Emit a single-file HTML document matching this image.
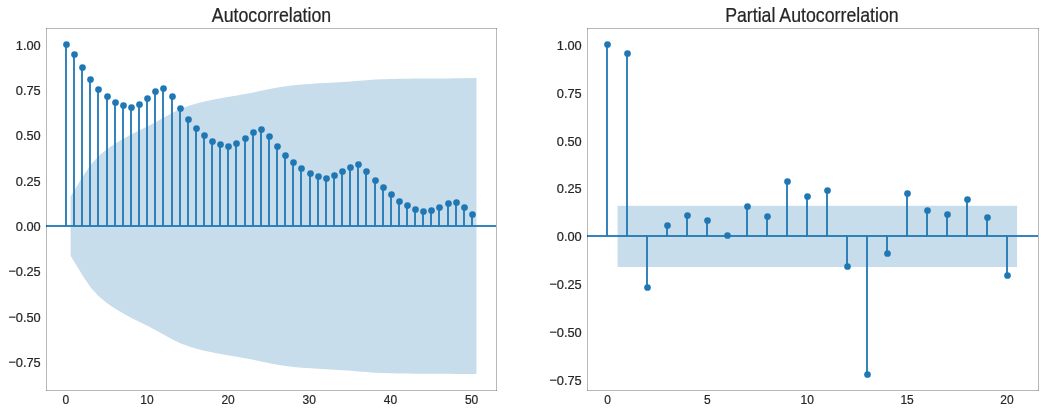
<!DOCTYPE html><html><head><meta charset="utf-8"><title>ACF / PACF</title><style>html,body{margin:0;padding:0;background:#fff;}svg{display:block;}text{font-family:"Liberation Sans",sans-serif;fill:#262626;}.tk{font-size:12px;stroke:#262626;stroke-width:0.2px;}.tt{stroke:#262626;stroke-width:0.2px;}</style></head><body>
<div style="width:1045px;height:414px;overflow:hidden;will-change:transform;"><svg width="1045" height="414" viewBox="0 0 1045 414">
<rect width="1045" height="414" fill="#fff"/>
<clipPath id="c46"><rect x="46.50" y="28.50" width="450.00" height="362.00"/></clipPath>
<g clip-path="url(#c46)">
<polygon points="70.58,196.49 82.76,176.56 90.87,164.46 98.99,155.80 107.11,149.05 115.23,143.45 123.35,138.66 131.46,134.35 139.58,130.33 147.70,126.29 155.82,122.04 163.94,117.48 172.05,112.90 180.17,109.03 188.29,105.94 196.41,103.46 204.53,101.41 212.64,99.66 220.76,98.14 228.88,96.76 237.00,95.45 245.12,94.05 253.23,92.51 261.35,90.77 269.47,88.94 277.59,87.39 285.71,86.18 293.82,85.24 301.94,84.49 310.06,83.88 318.18,83.36 326.30,82.91 334.41,82.49 342.53,82.02 350.65,81.48 358.77,80.83 366.89,80.15 375.00,79.60 383.12,79.21 391.24,78.95 399.36,78.77 407.48,78.66 415.59,78.58 423.71,78.53 431.83,78.49 439.95,78.45 448.07,78.38 456.18,78.29 464.30,78.19 476.48,78.12 476.48,374.11 464.30,374.05 456.18,373.94 448.07,373.85 439.95,373.79 431.83,373.74 423.71,373.70 415.59,373.65 407.48,373.58 399.36,373.46 391.24,373.29 383.12,373.02 375.00,372.64 366.89,372.08 358.77,371.40 350.65,370.76 342.53,370.21 334.41,369.75 326.30,369.32 318.18,368.87 310.06,368.36 301.94,367.74 293.82,366.99 285.71,366.05 277.59,364.84 269.47,363.29 261.35,361.47 253.23,359.72 245.12,358.18 237.00,356.79 228.88,355.47 220.76,354.09 212.64,352.57 204.53,350.83 196.41,348.77 188.29,346.29 180.17,343.20 172.05,339.33 163.94,334.75 155.82,330.19 147.70,325.94 139.58,321.90 131.46,317.88 123.35,313.57 115.23,308.78 107.11,303.18 98.99,296.43 90.87,287.77 82.76,275.67 70.58,255.74" fill="#c7ddec"/>
<g stroke="#1f77b4" stroke-width="1.80">
<line x1="66.0" y1="226.0" x2="66.0" y2="44.5"/>
<line x1="74.0" y1="226.0" x2="74.0" y2="54.5"/>
<line x1="82.0" y1="226.0" x2="82.0" y2="67.5"/>
<line x1="90.0" y1="226.0" x2="90.0" y2="79.5"/>
<line x1="98.0" y1="226.0" x2="98.0" y2="89.5"/>
<line x1="107.0" y1="226.0" x2="107.0" y2="96.5"/>
<line x1="115.0" y1="226.0" x2="115.0" y2="102.5"/>
<line x1="123.0" y1="226.0" x2="123.0" y2="105.5"/>
<line x1="131.0" y1="226.0" x2="131.0" y2="107.5"/>
<line x1="139.0" y1="226.0" x2="139.0" y2="104.5"/>
<line x1="147.0" y1="226.0" x2="147.0" y2="98.5"/>
<line x1="155.0" y1="226.0" x2="155.0" y2="91.5"/>
<line x1="163.0" y1="226.0" x2="163.0" y2="88.5"/>
<line x1="172.0" y1="226.0" x2="172.0" y2="96.5"/>
<line x1="180.0" y1="226.0" x2="180.0" y2="108.5"/>
<line x1="188.0" y1="226.0" x2="188.0" y2="119.5"/>
<line x1="196.0" y1="226.0" x2="196.0" y2="128.5"/>
<line x1="204.0" y1="226.0" x2="204.0" y2="135.5"/>
<line x1="212.0" y1="226.0" x2="212.0" y2="141.5"/>
<line x1="220.0" y1="226.0" x2="220.0" y2="144.5"/>
<line x1="228.0" y1="226.0" x2="228.0" y2="146.5"/>
<line x1="236.0" y1="226.0" x2="236.0" y2="143.5"/>
<line x1="245.0" y1="226.0" x2="245.0" y2="138.5"/>
<line x1="253.0" y1="226.0" x2="253.0" y2="132.5"/>
<line x1="261.0" y1="226.0" x2="261.0" y2="129.5"/>
<line x1="269.0" y1="226.0" x2="269.0" y2="136.5"/>
<line x1="277.0" y1="226.0" x2="277.0" y2="146.5"/>
<line x1="285.0" y1="226.0" x2="285.0" y2="155.5"/>
<line x1="293.0" y1="226.0" x2="293.0" y2="162.5"/>
<line x1="301.0" y1="226.0" x2="301.0" y2="168.5"/>
<line x1="310.0" y1="226.0" x2="310.0" y2="173.5"/>
<line x1="318.0" y1="226.0" x2="318.0" y2="176.5"/>
<line x1="326.0" y1="226.0" x2="326.0" y2="178.5"/>
<line x1="334.0" y1="226.0" x2="334.0" y2="175.5"/>
<line x1="342.0" y1="226.0" x2="342.0" y2="171.5"/>
<line x1="350.0" y1="226.0" x2="350.0" y2="167.5"/>
<line x1="358.0" y1="226.0" x2="358.0" y2="164.5"/>
<line x1="366.0" y1="226.0" x2="366.0" y2="171.5"/>
<line x1="375.0" y1="226.0" x2="375.0" y2="180.5"/>
<line x1="383.0" y1="226.0" x2="383.0" y2="187.5"/>
<line x1="391.0" y1="226.0" x2="391.0" y2="194.5"/>
<line x1="399.0" y1="226.0" x2="399.0" y2="201.5"/>
<line x1="407.0" y1="226.0" x2="407.0" y2="205.5"/>
<line x1="415.0" y1="226.0" x2="415.0" y2="209.5"/>
<line x1="423.0" y1="226.0" x2="423.0" y2="211.5"/>
<line x1="431.0" y1="226.0" x2="431.0" y2="210.5"/>
<line x1="439.0" y1="226.0" x2="439.0" y2="207.5"/>
<line x1="448.0" y1="226.0" x2="448.0" y2="203.5"/>
<line x1="456.0" y1="226.0" x2="456.0" y2="202.5"/>
<line x1="464.0" y1="226.0" x2="464.0" y2="207.5"/>
<line x1="472.0" y1="226.0" x2="472.0" y2="214.5"/>
</g><g fill="#1f77b4">
<circle cx="66.5" cy="44.5" r="3.35"/>
<circle cx="74.5" cy="54.5" r="3.35"/>
<circle cx="82.5" cy="67.5" r="3.35"/>
<circle cx="90.5" cy="79.5" r="3.35"/>
<circle cx="98.5" cy="89.5" r="3.35"/>
<circle cx="107.5" cy="96.5" r="3.35"/>
<circle cx="115.5" cy="102.5" r="3.35"/>
<circle cx="123.5" cy="105.5" r="3.35"/>
<circle cx="131.5" cy="107.5" r="3.35"/>
<circle cx="139.5" cy="104.5" r="3.35"/>
<circle cx="147.5" cy="98.5" r="3.35"/>
<circle cx="155.5" cy="91.5" r="3.35"/>
<circle cx="163.5" cy="88.5" r="3.35"/>
<circle cx="172.5" cy="96.5" r="3.35"/>
<circle cx="180.5" cy="108.5" r="3.35"/>
<circle cx="188.5" cy="119.5" r="3.35"/>
<circle cx="196.5" cy="128.5" r="3.35"/>
<circle cx="204.5" cy="135.5" r="3.35"/>
<circle cx="212.5" cy="141.5" r="3.35"/>
<circle cx="220.5" cy="144.5" r="3.35"/>
<circle cx="228.5" cy="146.5" r="3.35"/>
<circle cx="236.5" cy="143.5" r="3.35"/>
<circle cx="245.5" cy="138.5" r="3.35"/>
<circle cx="253.5" cy="132.5" r="3.35"/>
<circle cx="261.5" cy="129.5" r="3.35"/>
<circle cx="269.5" cy="136.5" r="3.35"/>
<circle cx="277.5" cy="146.5" r="3.35"/>
<circle cx="285.5" cy="155.5" r="3.35"/>
<circle cx="293.5" cy="162.5" r="3.35"/>
<circle cx="301.5" cy="168.5" r="3.35"/>
<circle cx="310.5" cy="173.5" r="3.35"/>
<circle cx="318.5" cy="176.5" r="3.35"/>
<circle cx="326.5" cy="178.5" r="3.35"/>
<circle cx="334.5" cy="175.5" r="3.35"/>
<circle cx="342.5" cy="171.5" r="3.35"/>
<circle cx="350.5" cy="167.5" r="3.35"/>
<circle cx="358.5" cy="164.5" r="3.35"/>
<circle cx="366.5" cy="171.5" r="3.35"/>
<circle cx="375.5" cy="180.5" r="3.35"/>
<circle cx="383.5" cy="187.5" r="3.35"/>
<circle cx="391.5" cy="194.5" r="3.35"/>
<circle cx="399.5" cy="201.5" r="3.35"/>
<circle cx="407.5" cy="205.5" r="3.35"/>
<circle cx="415.5" cy="209.5" r="3.35"/>
<circle cx="423.5" cy="211.5" r="3.35"/>
<circle cx="431.5" cy="210.5" r="3.35"/>
<circle cx="439.5" cy="207.5" r="3.35"/>
<circle cx="448.5" cy="203.5" r="3.35"/>
<circle cx="456.5" cy="202.5" r="3.35"/>
<circle cx="464.5" cy="207.5" r="3.35"/>
<circle cx="472.5" cy="214.5" r="3.35"/>
</g></g>
<rect x="46.5" y="28.5" width="450.0" height="362.0" fill="none" stroke="#b8b8b8" stroke-width="1"/>
<rect x="46.0" y="28.0" width="1" height="1" fill="#8e8e8e"/>
<rect x="496.0" y="28.0" width="1" height="1" fill="#8e8e8e"/>
<rect x="46.0" y="390.0" width="1" height="1" fill="#8e8e8e"/>
<rect x="496.0" y="390.0" width="1" height="1" fill="#8e8e8e"/>
<line x1="46.00" y1="226.0" x2="496.00" y2="226.0" stroke="#1f77b4" stroke-width="1.80" stroke-opacity="0.9"/>
<rect x="46.0" y="225.0" width="1" height="2" fill="#1b5f98"/>
<text transform="translate(271.50,21.60) scale(1,1.125)" font-size="17.75" text-anchor="middle" class="tt">Autocorrelation</text>
<text transform="translate(40.75,49.69) scale(1.070,1)" text-anchor="end" class="tk">1.00</text>
<text transform="translate(40.75,95.04) scale(1.070,1)" text-anchor="end" class="tk">0.75</text>
<text transform="translate(40.75,140.39) scale(1.070,1)" text-anchor="end" class="tk">0.50</text>
<text transform="translate(40.75,185.74) scale(1.070,1)" text-anchor="end" class="tk">0.25</text>
<text transform="translate(40.75,231.09) scale(1.070,1)" text-anchor="end" class="tk">0.00</text>
<text transform="translate(40.75,276.44) scale(1.070,1)" text-anchor="end" class="tk"><tspan dy="-1">−</tspan><tspan dy="1">0.25</tspan></text>
<text transform="translate(40.75,321.78) scale(1.070,1)" text-anchor="end" class="tk"><tspan dy="-1">−</tspan><tspan dy="1">0.50</tspan></text>
<text transform="translate(40.75,367.13) scale(1.070,1)" text-anchor="end" class="tk"><tspan dy="-1">−</tspan><tspan dy="1">0.75</tspan></text>
<text x="65.72" y="403.70" text-anchor="middle" class="tk">0</text>
<text x="146.90" y="403.70" text-anchor="middle" class="tk">10</text>
<text x="228.08" y="403.70" text-anchor="middle" class="tk">20</text>
<text x="309.26" y="403.70" text-anchor="middle" class="tk">30</text>
<text x="390.44" y="403.70" text-anchor="middle" class="tk">40</text>
<text x="471.62" y="403.70" text-anchor="middle" class="tk">50</text>
<clipPath id="c587"><rect x="587.50" y="28.50" width="451.00" height="362.00"/></clipPath>
<g clip-path="url(#c587)">
<polygon points="617.59,205.74 647.55,205.74 667.52,205.74 687.50,205.74 707.48,205.74 727.45,205.74 747.43,205.74 767.40,205.74 787.38,205.74 807.35,205.74 827.33,205.74 847.30,205.74 867.28,205.74 887.25,205.74 907.23,205.74 927.20,205.74 947.18,205.74 967.15,205.74 987.12,205.74 1017.09,205.74 1017.09,267.08 987.12,267.08 967.15,267.08 947.18,267.08 927.20,267.08 907.23,267.08 887.25,267.08 867.28,267.08 847.30,267.08 827.33,267.08 807.35,267.08 787.38,267.08 767.40,267.08 747.43,267.08 727.45,267.08 707.48,267.08 687.50,267.08 667.52,267.08 647.55,267.08 617.59,267.08" fill="#c7ddec"/>
<g stroke="#1f77b4" stroke-width="1.80">
<line x1="607.0" y1="236.0" x2="607.0" y2="44.5"/>
<line x1="627.0" y1="236.0" x2="627.0" y2="53.5"/>
<line x1="647.0" y1="236.0" x2="647.0" y2="287.5"/>
<line x1="667.0" y1="236.0" x2="667.0" y2="225.5"/>
<line x1="687.0" y1="236.0" x2="687.0" y2="215.5"/>
<line x1="707.0" y1="236.0" x2="707.0" y2="220.5"/>
<line x1="727.0" y1="236.0" x2="727.0" y2="235.5"/>
<line x1="747.0" y1="236.0" x2="747.0" y2="206.5"/>
<line x1="767.0" y1="236.0" x2="767.0" y2="216.5"/>
<line x1="787.0" y1="236.0" x2="787.0" y2="181.5"/>
<line x1="807.0" y1="236.0" x2="807.0" y2="196.5"/>
<line x1="827.0" y1="236.0" x2="827.0" y2="190.5"/>
<line x1="847.0" y1="236.0" x2="847.0" y2="266.5"/>
<line x1="867.0" y1="236.0" x2="867.0" y2="374.5"/>
<line x1="887.0" y1="236.0" x2="887.0" y2="253.5"/>
<line x1="907.0" y1="236.0" x2="907.0" y2="193.5"/>
<line x1="927.0" y1="236.0" x2="927.0" y2="210.5"/>
<line x1="947.0" y1="236.0" x2="947.0" y2="214.5"/>
<line x1="967.0" y1="236.0" x2="967.0" y2="199.5"/>
<line x1="987.0" y1="236.0" x2="987.0" y2="217.5"/>
<line x1="1007.0" y1="236.0" x2="1007.0" y2="275.5"/>
</g><g fill="#1f77b4">
<circle cx="607.5" cy="44.5" r="3.35"/>
<circle cx="627.5" cy="53.5" r="3.35"/>
<circle cx="647.5" cy="287.5" r="3.35"/>
<circle cx="667.5" cy="225.5" r="3.35"/>
<circle cx="687.5" cy="215.5" r="3.35"/>
<circle cx="707.5" cy="220.5" r="3.35"/>
<circle cx="727.5" cy="235.5" r="3.35"/>
<circle cx="747.5" cy="206.5" r="3.35"/>
<circle cx="767.5" cy="216.5" r="3.35"/>
<circle cx="787.5" cy="181.5" r="3.35"/>
<circle cx="807.5" cy="196.5" r="3.35"/>
<circle cx="827.5" cy="190.5" r="3.35"/>
<circle cx="847.5" cy="266.5" r="3.35"/>
<circle cx="867.5" cy="374.5" r="3.35"/>
<circle cx="887.5" cy="253.5" r="3.35"/>
<circle cx="907.5" cy="193.5" r="3.35"/>
<circle cx="927.5" cy="210.5" r="3.35"/>
<circle cx="947.5" cy="214.5" r="3.35"/>
<circle cx="967.5" cy="199.5" r="3.35"/>
<circle cx="987.5" cy="217.5" r="3.35"/>
<circle cx="1007.5" cy="275.5" r="3.35"/>
</g></g>
<rect x="587.5" y="28.5" width="451.0" height="362.0" fill="none" stroke="#b8b8b8" stroke-width="1"/>
<rect x="587.0" y="28.0" width="1" height="1" fill="#8e8e8e"/>
<rect x="1038.0" y="28.0" width="1" height="1" fill="#8e8e8e"/>
<rect x="587.0" y="390.0" width="1" height="1" fill="#8e8e8e"/>
<rect x="1038.0" y="390.0" width="1" height="1" fill="#8e8e8e"/>
<line x1="587.00" y1="236.0" x2="1038.00" y2="236.0" stroke="#1f77b4" stroke-width="1.80" stroke-opacity="0.9"/>
<rect x="587.0" y="235.0" width="1" height="2" fill="#1b5f98"/>
<text transform="translate(811.90,21.60) scale(1,1.125)" font-size="17.75" text-anchor="middle" class="tt">Partial Autocorrelation</text>
<text transform="translate(581.75,49.69) scale(1.070,1)" text-anchor="end" class="tk">1.00</text>
<text transform="translate(581.75,97.61) scale(1.070,1)" text-anchor="end" class="tk">0.75</text>
<text transform="translate(581.75,145.54) scale(1.070,1)" text-anchor="end" class="tk">0.50</text>
<text transform="translate(581.75,193.46) scale(1.070,1)" text-anchor="end" class="tk">0.25</text>
<text transform="translate(581.75,241.38) scale(1.070,1)" text-anchor="end" class="tk">0.00</text>
<text transform="translate(581.75,289.31) scale(1.070,1)" text-anchor="end" class="tk"><tspan dy="-1">−</tspan><tspan dy="1">0.25</tspan></text>
<text transform="translate(581.75,337.23) scale(1.070,1)" text-anchor="end" class="tk"><tspan dy="-1">−</tspan><tspan dy="1">0.50</tspan></text>
<text transform="translate(581.75,385.15) scale(1.070,1)" text-anchor="end" class="tk"><tspan dy="-1">−</tspan><tspan dy="1">0.75</tspan></text>
<text x="607.50" y="403.70" text-anchor="middle" class="tk">0</text>
<text x="707.38" y="403.70" text-anchor="middle" class="tk">5</text>
<text x="807.25" y="403.70" text-anchor="middle" class="tk">10</text>
<text x="907.12" y="403.70" text-anchor="middle" class="tk">15</text>
<text x="1007.00" y="403.70" text-anchor="middle" class="tk">20</text>
</svg></div></body></html>
